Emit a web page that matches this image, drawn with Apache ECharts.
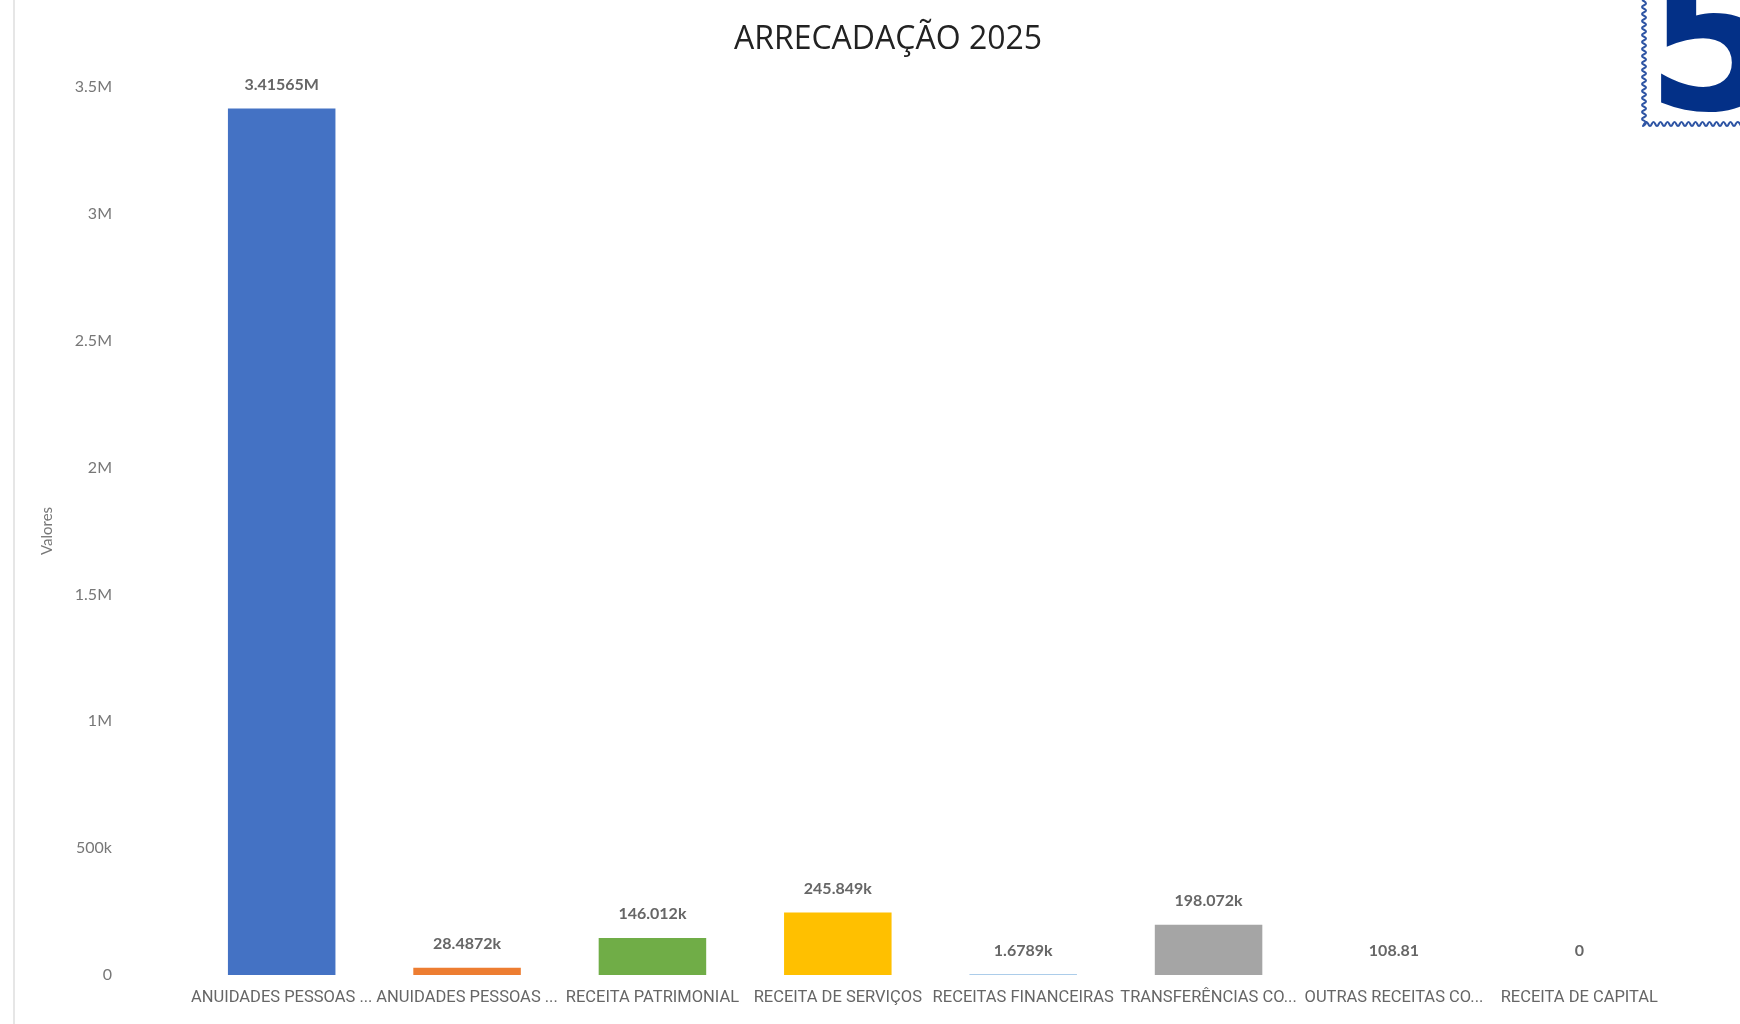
<!DOCTYPE html>
<html>
<head>
<meta charset="utf-8">
<title>Arrecadação 2025</title>
<script src="https://cdn.jsdelivr.net/npm/echarts@6/dist/echarts.min.js"></script>
<style>
  html, body { margin: 0; padding: 0; background: #fff; }
  #chart { width: 1740px; height: 1024px; }
</style>
</head>
<body>
<div id="chart"></div>
<script>
// categorias e valores
var categorias = [
  'ANUIDADES PESSOAS ...',
  'ANUIDADES PESSOAS ...',
  'RECEITA PATRIMONIAL',
  'RECEITA DE SERVIÇOS',
  'RECEITAS FINANCEIRAS',
  'TRANSFERÊNCIAS CO...',
  'OUTRAS RECEITAS CO...',
  'RECEITA DE CAPITAL'
];
var valores = [3415650, 28487.2, 146012, 245849, 1678.9, 198072, 108.81, 0];
var cores = ['#4472C4', '#ED7D31', '#70AD47', '#FFC000', '#5B9BD5', '#A5A5A5', '#264478', '#9E480E'];

function fmtValor(v) {
  if (v >= 1e6) return parseFloat((v / 1e6).toPrecision(6)) + 'M';
  if (v >= 1e3) return parseFloat((v / 1e3).toPrecision(6)) + 'k';
  return String(v);
}

function fmtEixo(v) {
  if (v >= 1e6) return (v / 1e6) + 'M';
  if (v >= 1e3) return (v / 1e3) + 'k';
  return String(v);
}

// borda ondulada do selo (logo)
function seloPontos() {
  var x0 = 1643, y1 = 125, pts = [];
  var i = 0;
  for (var y = 0; y <= y1; y += 3.5, i++) {
    pts.push([x0 + (i % 2 ? 3 : -1), y]);
  }
  i = 0;
  for (var x = x0; x <= 1742; x += 3.5, i++) {
    pts.push([x, y1 + (i % 2 ? -3 : 1)]);
  }
  return pts;
}

var chart = echarts.init(document.getElementById('chart'));

var option = {
  backgroundColor: '#fff',
  animation: false,
  title: {
    text: 'ARRECADAÇÃO 2025',
    left: 883,
    textAlign: 'center',
    top: 19,
    textStyle: {
      fontFamily: 'Open Sans',
      fontSize: 32,
      fontWeight: 'normal',
      color: '#222'
    }
  },
  grid: {
    left: 189,
    right: 68,
    top: 87,
    bottom: 49
  },
  xAxis: {
    type: 'category',
    data: categorias,
    axisLine: { show: false },
    axisTick: { show: false },
    axisLabel: {
      interval: 0,
      margin: 14,
      fontFamily: 'Liberation Sans Narrow, Roboto',
      fontSize: 16.5,
      color: '#666'
    }
  },
  yAxis: {
    type: 'value',
    min: 0,
    max: 3500000,
    interval: 500000,
    name: 'Valores',
    nameLocation: 'middle',
    nameGap: 134,
    nameTextStyle: {
      fontFamily: 'Lato',
      fontSize: 15,
      color: '#777'
    },
    axisLine: { show: false },
    axisTick: { show: false },
    splitLine: { show: false },
    axisLabel: {
      margin: 77,
      fontFamily: 'Lato',
      fontSize: 16,
      color: '#777',
      formatter: fmtEixo
    }
  },
  series: [{
    type: 'bar',
    barCategoryGap: '42%',
    data: valores.map(function(v, i) {
      return { value: v, itemStyle: { color: cores[i] } };
    }),
    label: {
      show: true,
      position: 'top',
      distance: 16,
      fontFamily: 'Lato',
      fontWeight: 'bold',
      fontSize: 16,
      color: '#666',
      formatter: function(p) { return fmtValor(p.value); }
    }
  }],
  graphic: [
    {
      type: 'line',
      shape: { x1: 14, y1: 0, x2: 14, y2: 1024 },
      style: { stroke: '#e6e6e6', lineWidth: 2 }
    },
    {
      type: 'polyline',
      shape: { points: seloPontos(), smooth: 0.5 },
      style: { fill: null, stroke: '#2f55a4', lineWidth: 2 }
    },
    {
      type: 'text',
      x: 1646,
      y: -40,
      style: {
        text: '5',
        font: 'bold 196px "DejaVu Sans"',
        fill: '#033087'
      }
    }
  ]
};

chart.setOption(option);
</script>
</body>
</html>
